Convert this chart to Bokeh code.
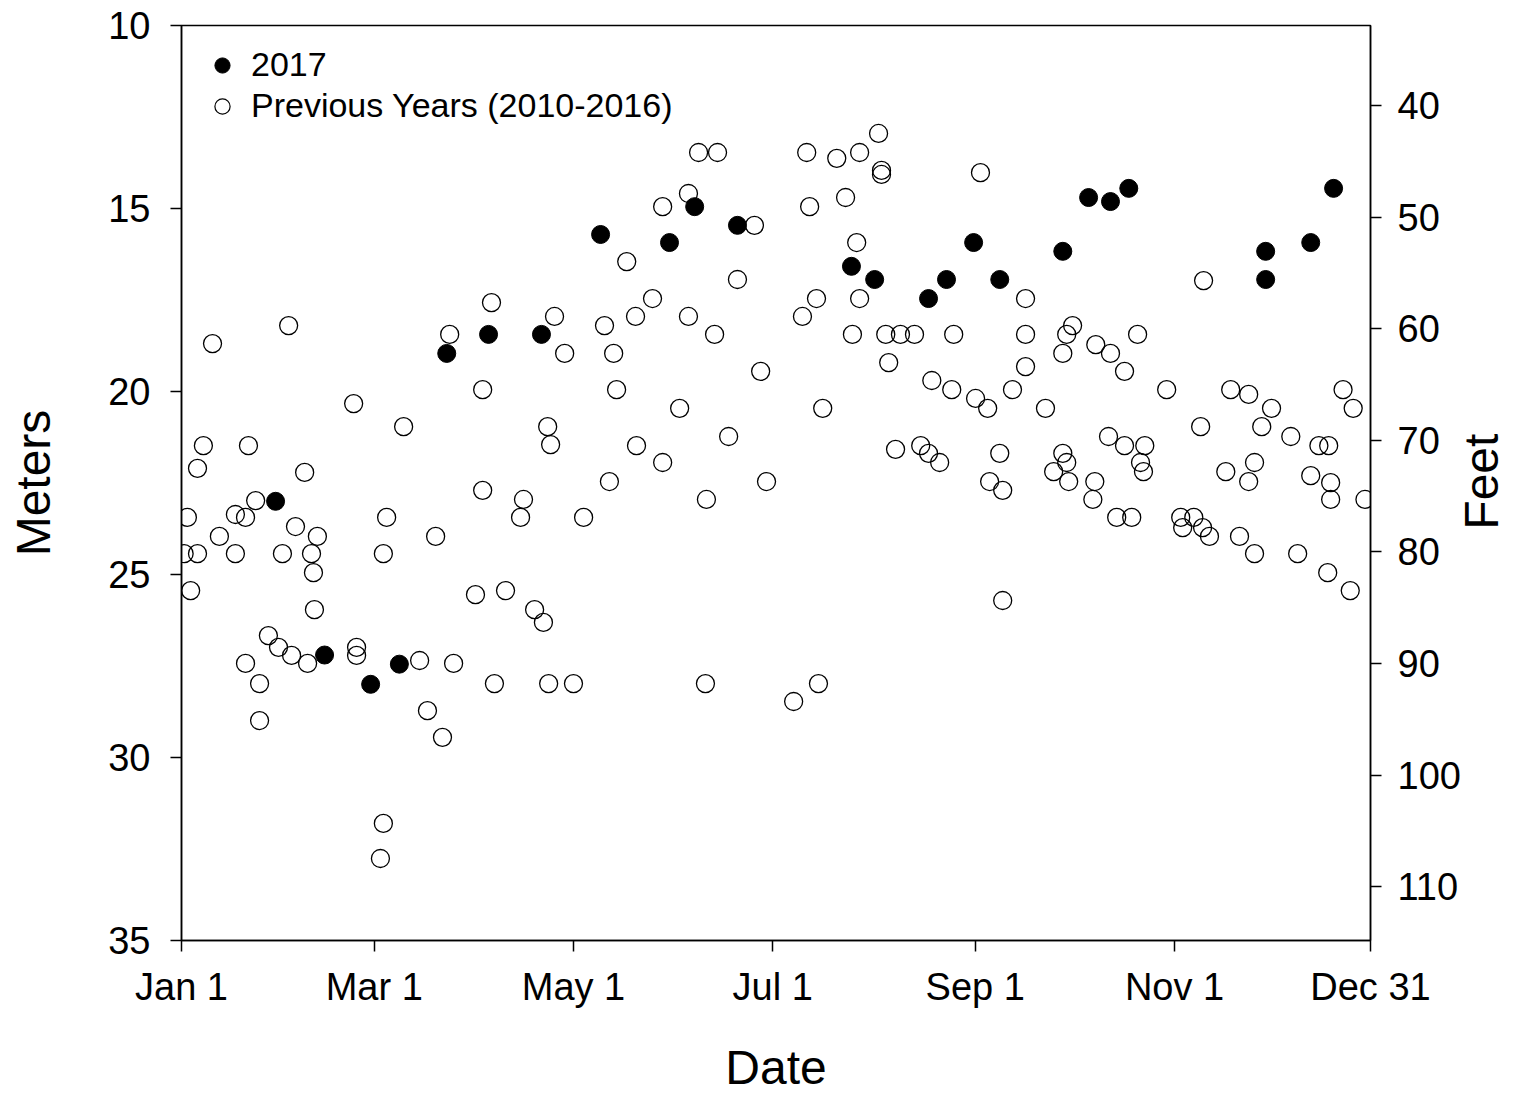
import math
from bokeh.plotting import figure
from bokeh.models import Range1d, LinearAxis, FixedTicker, Legend, LegendItem
from bokeh.embed import file_html
from bokeh.resources import INLINE

# ---- data (day of year, 0 = Jan 1; depth to water in meters) ----
tick_days = [0, 59, 120, 181, 243, 304, 364]
tick_labels = ["Jan 1", "Mar 1", "May 1", "Jul 1", "Sep 1", "Nov 1", "Dec 31"]
meter_ticks = [10, 15, 20, 25, 30, 35]
feet_ticks = [40, 50, 60, 70, 80, 90, 100, 110]
M_TO_FT = 3.28084

y2017_day = [28.8, 43.8, 57.9, 66.7, 81.2, 94.0, 110.2, 128.3, 149.4, 157.1, 170.2,
             205.1, 212.2, 228.7, 234.2, 242.5, 250.5, 269.8, 277.7, 284.4, 290.0,
             331.9, 331.9, 345.7, 352.7]
y2017_m = [23.0, 27.2, 28.0, 27.45, 18.96, 18.44, 18.44, 15.71, 15.93, 14.95, 15.46,
           16.58, 16.94, 17.46, 16.94, 15.93, 16.94, 16.17, 14.70, 14.81, 14.45,
           16.17, 16.94, 15.93, 14.45]

prev_day = [0.8, 2.8, 1.8, 4.9, 4.9, 6.7, 9.5, 11.6, 16.5, 16.5, 19.6, 20.5, 19.6, 22.7,
            23.9, 23.9, 26.6, 29.7, 30.9, 32.8, 33.7, 34.9, 37.7, 38.6, 39.8, 40.4, 40.7,
            41.6, 52.7, 53.6, 53.6, 60.9, 61.8, 61.8, 62.8, 68.0, 72.9, 75.3, 77.8, 79.9,
            82.1, 83.3, 90.0, 92.2, 92.2, 94.9, 95.8, 99.2, 103.8, 104.7, 108.1, 110.8,
            112.1, 113.0, 112.4, 114.2, 117.3, 120.0, 123.1, 129.5, 131.0, 132.3, 133.2,
            136.3, 139.0, 139.3, 144.2, 147.3, 147.3, 152.5, 155.2, 155.2, 158.3, 160.7,
            160.4, 163.2, 164.1, 167.5, 170.2, 175.4, 177.3, 179.1, 187.4, 190.1, 191.4,
            192.3, 194.4, 195.0, 196.3, 200.6, 203.3, 205.4, 206.7, 207.6, 207.6, 213.4,
            214.3, 214.3, 215.6, 216.5, 218.6, 220.1, 224.4, 226.3, 228.7, 229.7, 232.1,
            235.8, 236.4, 243.1, 244.6, 246.8, 247.4, 250.5, 251.4, 251.4, 254.4, 258.4,
            258.4, 258.4, 264.5, 267.0, 269.8, 269.8, 271.0, 271.6, 271.0, 272.8, 279.6,
            279.0, 279.9, 283.8, 284.4, 286.3, 288.7, 288.7, 290.9, 292.7, 293.6, 294.5,
            294.9, 301.6, 305.9, 306.5, 309.9, 312.0, 312.6, 312.9, 314.7, 319.7, 321.2,
            323.9, 326.7, 326.7, 328.5, 328.5, 330.7, 333.7, 339.6, 341.7, 345.7, 348.2,
            351.2, 351.8, 351.8, 350.9, 355.6, 357.8, 358.7, 362.3]
prev_m = [24.43, 25.44, 23.44, 24.43, 22.1, 21.48, 18.69, 23.96, 24.43, 23.36, 23.44,
          21.48, 27.43, 22.98, 27.98, 28.99, 26.67, 26.99, 24.43, 18.2, 27.21, 23.69,
          22.21, 27.43, 24.43, 24.95, 25.96, 23.96, 20.33, 26.99, 27.21, 32.76, 31.8,
          24.43, 23.44, 20.96, 27.35, 28.72, 23.96, 29.45, 18.44, 27.43, 25.55, 19.95,
          22.7, 17.57, 27.98, 25.44, 23.44, 22.95, 25.96, 26.31, 20.96, 21.45, 27.98,
          17.95, 18.96, 27.98, 23.44, 18.2, 22.46, 18.96, 19.95, 16.45, 17.95, 21.48,
          17.46, 14.95, 21.94, 20.46, 17.95, 14.59, 13.47, 22.95, 27.98, 18.44, 13.47,
          21.23, 16.94, 15.46, 19.45, 22.46, 28.47, 17.95, 13.47, 14.95, 17.46, 27.98,
          20.46, 13.63, 14.7, 18.44, 15.93, 13.47, 17.46, 12.95, 13.96, 14.07, 18.44,
          19.21, 21.58, 18.44, 18.44, 21.48, 21.69, 19.7, 21.94, 19.95, 18.44, 20.19,
          14.02, 20.46, 22.46, 21.69, 22.7, 25.71, 19.95, 18.44, 17.46, 19.32, 20.46,
          22.19, 18.96, 21.69, 21.94, 22.46, 18.44, 18.2, 22.46, 22.95, 18.72, 21.23,
          18.96, 23.44, 19.45, 21.48, 23.44, 18.44, 21.94, 22.19, 21.48, 19.95, 23.44,
          23.72, 23.44, 20.96, 23.72, 16.97, 23.96, 22.19, 19.95, 23.96, 20.08, 22.46,
          21.94, 24.43, 20.96, 20.46, 21.23, 24.43, 22.3, 21.48, 21.48, 22.49, 22.95,
          24.95, 19.95, 25.44, 20.46, 22.95]

FONT = "Liberation Sans"
NAN = float("nan")
FEET_TITLE_AT = 78  # where the bottom-to-top "Feet" title starts, on the feet scale

p = figure(frame_width=1189, frame_height=915, output_backend="svg",
           toolbar_location=None, x_range=Range1d(0, 364), y_range=Range1d(35, 10),
           min_border_left=181, min_border_top=25, min_border_right=0, min_border_bottom=0,
           background_fill_color="white", border_fill_color="white")
p.xgrid.visible = False
p.ygrid.visible = False
p.outline_line_color = "black"
p.outline_line_width = 1.5

p.extra_y_ranges = {"feet": Range1d(35 * M_TO_FT, 10 * M_TO_FT)}
right_axis = LinearAxis(y_range_name="feet", ticker=FixedTicker(ticks=feet_ticks))
p.add_layout(right_axis, "right")

p.xaxis.ticker = FixedTicker(ticks=tick_days)
p.xaxis.major_label_overrides = {d: l for d, l in zip(tick_days, tick_labels)}
p.xaxis.axis_label = "Date"
p.yaxis[0].ticker = FixedTicker(ticks=meter_ticks)
p.yaxis[0].axis_label = "Meters"

for ax in p.xaxis + p.yaxis:
    ax.axis_line_color = "black"
    ax.axis_line_width = 1.5
    ax.major_tick_line_color = "black"
    ax.major_tick_line_width = 1.5
    ax.major_tick_in = 0
    ax.major_tick_out = 11
    ax.minor_tick_line_color = None
    ax.major_label_text_font = FONT
    ax.major_label_text_font_size = "38px"
    ax.major_label_text_color = "black"
    ax.axis_label_text_font = FONT
    ax.axis_label_text_font_size = "48px"
    ax.axis_label_text_font_style = "normal"
    ax.axis_label_text_color = "black"
    ax.major_label_standoff = 16

p.yaxis[0].major_label_standoff = 20
p.xaxis.major_label_standoff = 14
p.xaxis.axis_label_standoff = 30
p.yaxis[0].axis_label_standoff = 45

# right-hand title "Feet", reading bottom-to-top like "Meters":
# an outer, line-less axis whose single rotated label is the title
feet_title_axis = LinearAxis(y_range_name="feet", ticker=FixedTicker(ticks=[FEET_TITLE_AT]),
                             major_label_overrides={FEET_TITLE_AT: "Feet"},
                             major_label_orientation=math.pi / 2,
                             axis_line_color=None, major_tick_line_color=None,
                             minor_tick_line_color=None, major_tick_in=0, major_tick_out=0,
                             major_label_standoff=18, major_label_text_font=FONT,
                             major_label_text_font_size="48px",
                             major_label_text_color="black")
p.add_layout(feet_title_axis, "right")

open_r = p.scatter(prev_day, prev_m, marker="circle", size=18, fill_color=None,
                   line_color="black", line_width=1.3)
fill_r = p.scatter(y2017_day, y2017_m, marker="circle", size=18, fill_color="black",
                   line_color="black", line_width=1.0)

leg_fill = p.scatter([NAN], [NAN], marker="circle", size=13, fill_color="black",
                     line_color="black")
leg_open = p.scatter([NAN], [NAN], marker="circle", size=13, fill_color=None,
                     line_color="black", line_width=1.2)

legend = Legend(items=[LegendItem(label="2017", renderers=[leg_fill]),
                       LegendItem(label="Previous Years (2010-2016)", renderers=[leg_open])],
                location="top_left", margin=20, padding=0, glyph_width=42, glyph_height=38,
                label_height=38, label_standoff=8, spacing=2,
                label_text_font=FONT, label_text_font_size="34px", label_text_color="black",
                border_line_color=None, background_fill_alpha=0)
p.add_layout(legend)

open("out.html", "w").write(file_html(p, INLINE))
